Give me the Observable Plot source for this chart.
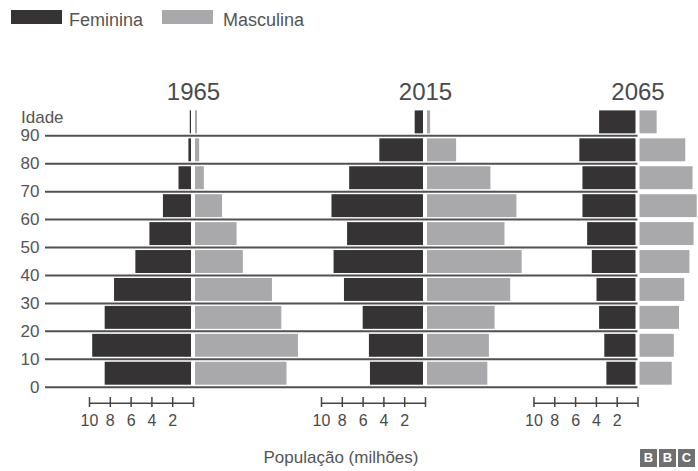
<!DOCTYPE html>
<html>
<head>
<meta charset="utf-8">
<script src="https://cdn.jsdelivr.net/npm/d3@7"></script>
<script src="https://cdn.jsdelivr.net/npm/@observablehq/plot@0.6"></script>
<style>
  html, body { margin: 0; padding: 0; background: #ffffff; }
  body { width: 698px; height: 471px; overflow: hidden; font-family: "Liberation Sans", Arial, sans-serif; color: #4a4a4a; }
  #legend { position: relative; height: 36px; }
  #legend .sw { position: absolute; top: 10px; width: 51px; height: 14px; }
  #legend .lb { position: absolute; top: 9px; font-size: 18px; line-height: 22px; color: #555; }
  #caption { position: relative; height: 30px; }
  #caption .title { position: absolute; left: 0; width: 682px; text-align: center; top: 6px; font-size: 17px; line-height: 22px; color: #555; }
  #caption .bbc { position: absolute; left: 640px; top: 8px; display: flex; gap: 2px; }
  #caption .bbc span { width: 17px; height: 18px; background: #707070; color: #fff; font-weight: bold; font-size: 13px; line-height: 18px; text-align: center; }
  #chart svg { display: block; }
</style>
</head>
<body>
<div id="legend"></div>
<div id="chart"></div>
<div id="caption"></div>
<script>
// ---- data (millions of people) ----
const ages = [0, 10, 20, 30, 40, 50, 60, 70, 80, 90];
const years = [1965, 2015, 2065];
const sexes = ["Feminina", "Masculina"];

const feminina1965 = [8.3, 9.5, 8.3, 7.4, 5.35, 4.0, 2.7, 1.2, 0.25, 0.12];
const masculina1965 = [8.8, 9.9, 8.3, 7.4, 4.6, 4.0, 2.6, 0.85, 0.4, 0.2];
const feminina2015 = [5.1, 5.2, 5.8, 7.6, 8.6, 7.3, 8.8, 7.1, 4.2, 0.8];
const masculina2015 = [5.8, 5.95, 6.5, 8.0, 9.1, 7.45, 8.6, 6.1, 2.8, 0.3];
const feminina2065 = [2.8, 3.0, 3.5, 3.75, 4.2, 4.65, 5.1, 5.1, 5.4, 3.5];
const masculina2065 = [3.1, 3.3, 3.8, 4.3, 4.8, 5.2, 5.5, 5.1, 4.4, 1.65];

const tickValues = [10, 8, 6, 4, 2, 0];
const tickLabels = ["10", "8", "6", "4", "2", ""];

const axisTitle = "População (milhões)";
const ageTitle = "Idade";

// ---- layout constants (not data) ----
const PX_PER_MILLION = 10.4;
const W = 698, H = 405;
const center = {1965: 0, 2015: 232 / PX_PER_MILLION, 2065: 444.5 / PX_PER_MILLION}; // panel offsets in x units
const X_DOMAIN = [-193 / PX_PER_MILLION, (W - 193) / PX_PER_MILLION];
const Y_RANGE = [350.7, 71.4];
const LINE_START = (45 - 193) / PX_PER_MILLION;
const AXIS_Y = -5.73, TICK_TOP = -3.69, TICK_BOTTOM = -7.27, TICK_LABEL_Y = -11.9;
const YEAR_Y = 103.0, IDADE_Y = 96.7, IDADE_X = (20.5 - 193) / PX_PER_MILLION;

const colors = {Feminina: "#353334", Masculina: "#a9a9ab"};

// ---- build tables ----
const series = {
  1965: {Feminina: feminina1965, Masculina: masculina1965},
  2015: {Feminina: feminina2015, Masculina: masculina2015},
  2065: {Feminina: feminina2065, Masculina: masculina2065}
};
const rows = [];
for (const yr of years) for (const s of sexes) ages.forEach((a, i) => rows.push({year: yr, sex: s, age: a, value: series[yr][s][i]}));
const fem = rows.filter(d => d.sex === "Feminina");
const masc = rows.filter(d => d.sex === "Masculina");
const ticks = [];
for (const yr of years) tickValues.forEach((v, i) => ticks.push({year: yr, v, label: tickLabels[i]}));

// ---- legend ----
const legend = document.getElementById("legend");
legend.innerHTML = `
  <span class="sw" style="left:11px;background:${colors.Feminina}"></span>
  <span class="lb" style="left:69px">${sexes[0]}</span>
  <span class="sw" style="left:162px;background:${colors.Masculina}"></span>
  <span class="lb" style="left:223px">${sexes[1]}</span>`;

// ---- chart ----
const chart = Plot.plot({
  width: W,
  height: H,
  marginLeft: 0, marginRight: 0, marginTop: 0, marginBottom: 0,
  style: {fontFamily: "'Liberation Sans', Arial, sans-serif", background: "#ffffff", overflow: "visible"},
  x: {domain: X_DOMAIN, axis: null},
  y: {domain: [0, 100], range: Y_RANGE, axis: null},
  marks: [
    Plot.ruleY(ages, {y: d => d, x1: LINE_START, x2: center[2065], stroke: "#505050", strokeWidth: 2}),
    Plot.rect(fem, {
      x1: d => center[d.year] - d.value, x2: d => center[d.year],
      y1: d => d.age, y2: d => d.age + 10,
      fill: colors.Feminina, dx: -2, insetTop: 3, insetBottom: 2
    }),
    Plot.rect(masc, {
      x1: d => center[d.year], x2: d => center[d.year] + d.value,
      y1: d => d.age, y2: d => d.age + 10,
      fill: colors.Masculina, dx: 2, insetTop: 3, insetBottom: 2
    }),
    Plot.text(ages, {x: LINE_START, y: d => d, text: d => String(d), textAnchor: "end", dx: -6, fontSize: 17, fill: "#555"}),
    Plot.text([ageTitle], {x: IDADE_X, y: IDADE_Y, text: d => d, textAnchor: "start", fontSize: 17, fill: "#555"}),
    Plot.text(years, {x: d => center[d], y: YEAR_Y, text: d => String(d), lineAnchor: "bottom", fontSize: 24, fill: "#4a4a4a"}),
    Plot.ruleY(years, {y: AXIS_Y, x1: d => center[d] - 10, x2: d => center[d], stroke: "#444", strokeWidth: 1.5}),
    Plot.ruleX(ticks, {x: d => center[d.year] - d.v, y1: TICK_TOP, y2: TICK_BOTTOM, stroke: "#444", strokeWidth: 1.5}),
    Plot.text(ticks.filter(d => d.label !== ""), {x: d => center[d.year] - d.v, y: TICK_LABEL_Y, text: d => d.label, fontSize: 16, fill: "#4a4a4a"})
  ]
});
document.getElementById("chart").appendChild(chart);

// ---- caption ----
document.getElementById("caption").innerHTML = `
  <div class="title">${axisTitle}</div>
  <div class="bbc"><span>B</span><span>B</span><span>C</span></div>`;
</script>
</body>
</html>
